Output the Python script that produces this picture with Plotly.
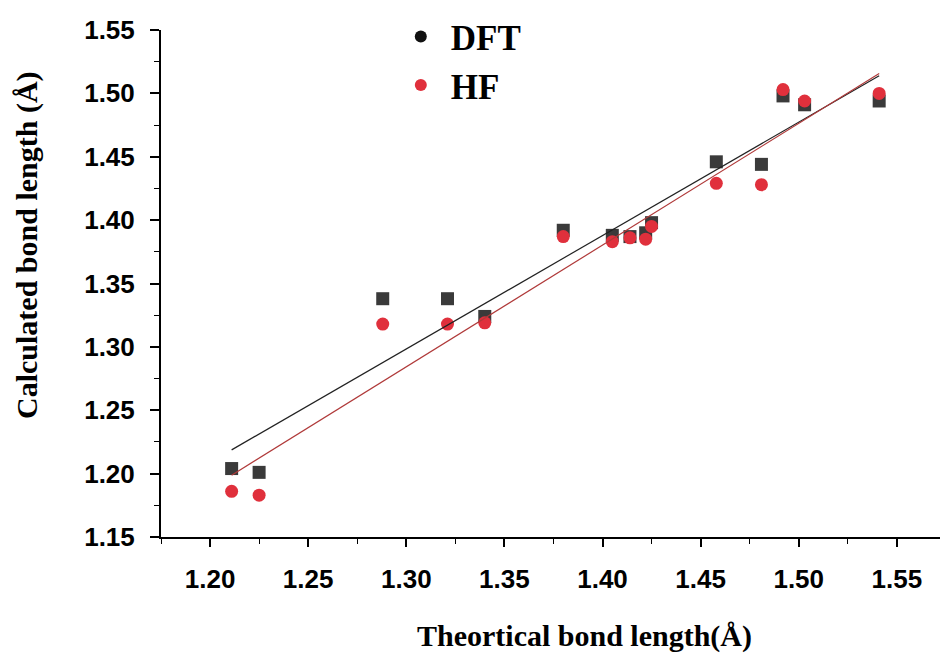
import numpy as np
import plotly.graph_objects as go

# Theoretical bond lengths (x) and calculated values (y)
x_theory = [1.211, 1.225, 1.288, 1.321, 1.340, 1.380, 1.405, 1.414, 1.422, 1.425,
            1.458, 1.481, 1.492, 1.503, 1.541]
y_dft = [1.204, 1.201, 1.338, 1.338, 1.324, 1.392, 1.388, 1.387, 1.390, 1.398,
         1.446, 1.444, 1.498, 1.491, 1.494]
y_hf = [1.186, 1.183, 1.318, 1.318, 1.319, 1.387, 1.383, 1.386, 1.385, 1.395,
        1.429, 1.428, 1.503, 1.494, 1.500]

series_names = ["DFT", "HF"]
x_ticks = [1.20, 1.25, 1.30, 1.35, 1.40, 1.45, 1.50, 1.55]
y_ticks = [1.15, 1.20, 1.25, 1.30, 1.35, 1.40, 1.45, 1.50, 1.55]

DFT_COLOR = "#3a3a3a"
HF_COLOR = "#e0303c"

xa = np.array(x_theory)
fit_x = np.array([xa.min(), xa.max()])
k_d, b_d = np.polyfit(xa, np.array(y_dft), 1)
k_h, b_h = np.polyfit(xa, np.array(y_hf), 1)

fig = go.Figure()

fig.add_trace(go.Scatter(x=x_theory, y=y_dft, mode="markers", showlegend=False,
                         marker=dict(symbol="square", size=13, color=DFT_COLOR)))
fig.add_trace(go.Scatter(x=x_theory, y=y_hf, mode="markers", showlegend=False,
                         marker=dict(symbol="circle", size=13, color=HF_COLOR)))
fig.add_trace(go.Scatter(x=fit_x, y=k_d * fit_x + b_d, mode="lines", showlegend=False,
                         line=dict(color="#222222", width=1.2)))
fig.add_trace(go.Scatter(x=fit_x, y=k_h * fit_x + b_h, mode="lines", showlegend=False,
                         line=dict(color="#b03a3a", width=1.2)))

# legend entries (circles, as in the reference)
fig.add_trace(go.Scatter(x=[None], y=[None], mode="markers", name=series_names[0],
                         marker=dict(symbol="circle", size=12, color="#111111")))
fig.add_trace(go.Scatter(x=[None], y=[None], mode="markers", name=series_names[1],
                         marker=dict(symbol="circle", size=12, color=HF_COLOR)))

tickfont = dict(family="Liberation Sans, Arial, sans-serif", size=26, color="black", weight="bold")
titlefont = dict(family="Liberation Serif, Times New Roman, serif", size=30, color="black", weight="bold")

fig.update_layout(
    width=940, height=654,
    margin=dict(l=161, r=0, t=30, b=117),
    paper_bgcolor="white", plot_bgcolor="white",
    showlegend=True,
    legend=dict(x=0.295, y=1.045, xanchor="left", yanchor="top", itemwidth=50,
                font=dict(family="Liberation Serif, Times New Roman, serif", size=35,
                          color="black", weight="bold"),
                bgcolor="rgba(0,0,0,0)", itemsizing="constant", tracegroupgap=0),
    xaxis=dict(range=[1.175, 1.572], tickvals=x_ticks,
               ticktext=[f"{v:.2f}" for v in x_ticks],
               showgrid=False, zeroline=False, showline=True, linecolor="black", linewidth=2,
               ticks="outside", ticklen=8, tickwidth=1.5, tickcolor="black",
               minor=dict(ticks="outside", dtick=0.05, tick0=1.175, ticklen=5,
                          tickwidth=1.2, tickcolor="black", showgrid=False),
               tickfont=tickfont, ticklabelstandoff=10),
    yaxis=dict(range=[1.15, 1.55], tickvals=y_ticks,
               ticktext=[f"{v:.2f}" for v in y_ticks],
               showgrid=False, zeroline=False, showline=True, linecolor="black", linewidth=2,
               ticks="outside", ticklen=9, tickwidth=1.5, tickcolor="black",
               minor=dict(ticks="outside", dtick=0.05, tick0=1.175, ticklen=5,
                          tickwidth=1.2, tickcolor="black", showgrid=False),
               tickfont=tickfont, ticklabelstandoff=10),
)

fig.add_annotation(text="Theortical bond length(Å)", xref="paper", yref="paper",
                   x=(584 - 161) / 779, y=-(636 - 537) / 507, xanchor="center", yanchor="middle",
                   showarrow=False, font=titlefont)
fig.add_annotation(text="Calculated bond length (Å)", xref="paper", yref="paper",
                   x=-(161 - 27) / 779, y=(537 - 245) / 507, xanchor="center", yanchor="middle",
                   textangle=-90, showarrow=False, font=titlefont)

fig.write_html("out.html")
